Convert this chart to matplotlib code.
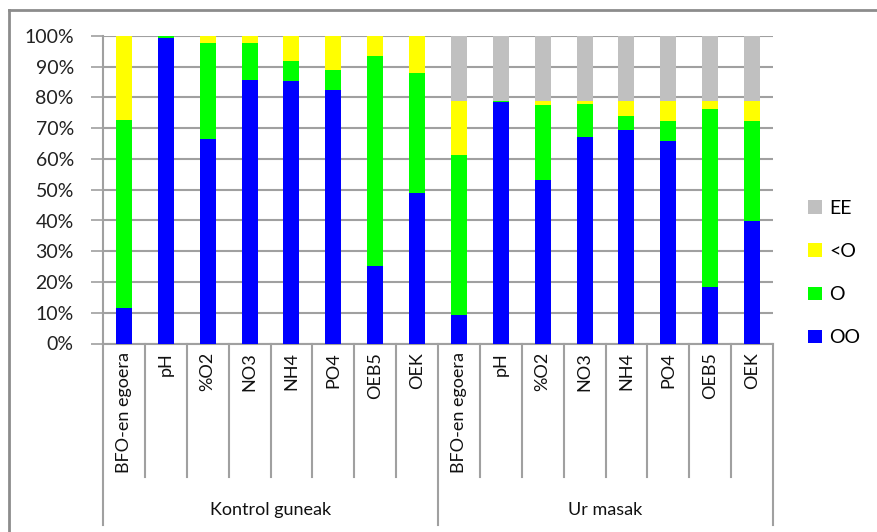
import matplotlib
matplotlib.use("Agg")
import matplotlib.pyplot as plt
from matplotlib.patches import Patch
from matplotlib.lines import Line2D
import numpy as np

plt.rcParams['font.family'] = ['Lato', 'DejaVu Sans']

categories = ["BFO-en egoera", "pH", "%O2", "NO3", "NH4", "PO4", "OEB5", "OEK"]
groups = ["Kontrol guneak", "Ur masak"]
labels = categories + categories

oo = [11.6, 99.2, 66.4, 85.8, 85.4, 82.3, 25.2, 48.9,
      9.2, 78.5, 53.1, 67.1, 69.4, 65.7, 18.4, 39.8]
o = [61.2, 0.8, 31.2, 11.8, 6.5, 6.5, 68.3, 39.2,
     52.1, 0.5, 24.4, 10.7, 4.6, 6.8, 57.9, 32.7]
lt_o = [27.2, 0.0, 2.4, 2.4, 8.1, 11.2, 6.5, 11.9,
        17.7, 0.0, 1.5, 1.2, 5.0, 6.5, 2.7, 6.5]
ee = [0, 0, 0, 0, 0, 0, 0, 0,
      21.0, 21.0, 21.0, 21.0, 21.0, 21.0, 21.0, 21.0]

series = [("OO", oo, "#0000FF"), ("O", o, "#00FF00"),
          ("<O", lt_o, "#FFFF00"), ("EE", ee, "#C0C0C0")]

W, H = 877, 532
fig = plt.figure(figsize=(W / 100, H / 100), dpi=100)
ax_l, ax_r, ax_t, ax_b = 103, 773, 36, 343.5
ax = fig.add_axes([ax_l / W, 1 - ax_b / H, (ax_r - ax_l) / W, (ax_b - ax_t) / H])

x = np.arange(len(labels))
bottom = np.zeros(len(labels))
for name, vals, col in series:
    v = np.array(vals, dtype=float)
    ax.bar(x, v, bottom=bottom, width=0.38, color=col, zorder=3, linewidth=0)
    bottom += v

ax.set_xlim(-0.5, len(labels) - 0.5)
ax.set_ylim(0, 100)
ax.set_yticks(np.arange(0, 101, 10))
ax.set_yticklabels([f"{t}%" for t in range(0, 101, 10)], fontsize=14, color="#222222")
ax.yaxis.grid(True, color="#A0A0A0", linewidth=1.5, zorder=0)
ax.set_xticks([])
ax.tick_params(axis='y', length=9, width=1.2, color="#A0A0A0", pad=12)
for s in ["top", "right"]:
    ax.spines[s].set_visible(False)
for s in ["left", "bottom"]:
    ax.spines[s].set_color("#A0A0A0")
    ax.spines[s].set_linewidth(1.5)

trans = ax.get_xaxis_transform()
ph = ax_b - ax_t
sep_y = -(477 - ax_b) / ph
grp_y = -(525 - ax_b) / ph
lab_y = -(352 - ax_b) / ph
glab_y = -(510 - ax_b) / ph

for i in range(len(labels) + 1):
    xi = i - 0.5
    yb = grp_y if i % 8 == 0 else sep_y
    ax.plot([xi, xi], [0, yb], transform=trans, color="#A0A0A0",
            linewidth=1.5, clip_on=False, zorder=1)

for i, lab in enumerate(labels):
    ax.text(i, lab_y, lab, transform=trans, rotation=90, ha="center", va="top",
            fontsize=13, color="#111111")

for g, name in enumerate(groups):
    ax.text(3.5 + 8 * g, glab_y, name, transform=trans, ha="center", va="center",
            fontsize=13, color="#111111")

# legend
handles = [Patch(facecolor=col, edgecolor="none", label=name)
           for name, vals, col in reversed(series)]
fig.legend(handles=handles, loc="center left", bbox_to_anchor=(808 / W, 1 - 273 / H),
           frameon=False, fontsize=14, handlelength=0.7, handleheight=0.7,
           handletextpad=0.4, labelspacing=1.35, borderpad=0, borderaxespad=0)

# outer frame (left and top visible)
fig.add_artist(Line2D([9 / W, 9 / W], [0, 1 - 9.5 / H], transform=fig.transFigure,
                      color="#8C8C8C", linewidth=2))
fig.add_artist(Line2D([9 / W, 1], [1 - 9.5 / H, 1 - 9.5 / H], transform=fig.transFigure,
                      color="#8C8C8C", linewidth=2))

fig.savefig("out.png", dpi=100)
